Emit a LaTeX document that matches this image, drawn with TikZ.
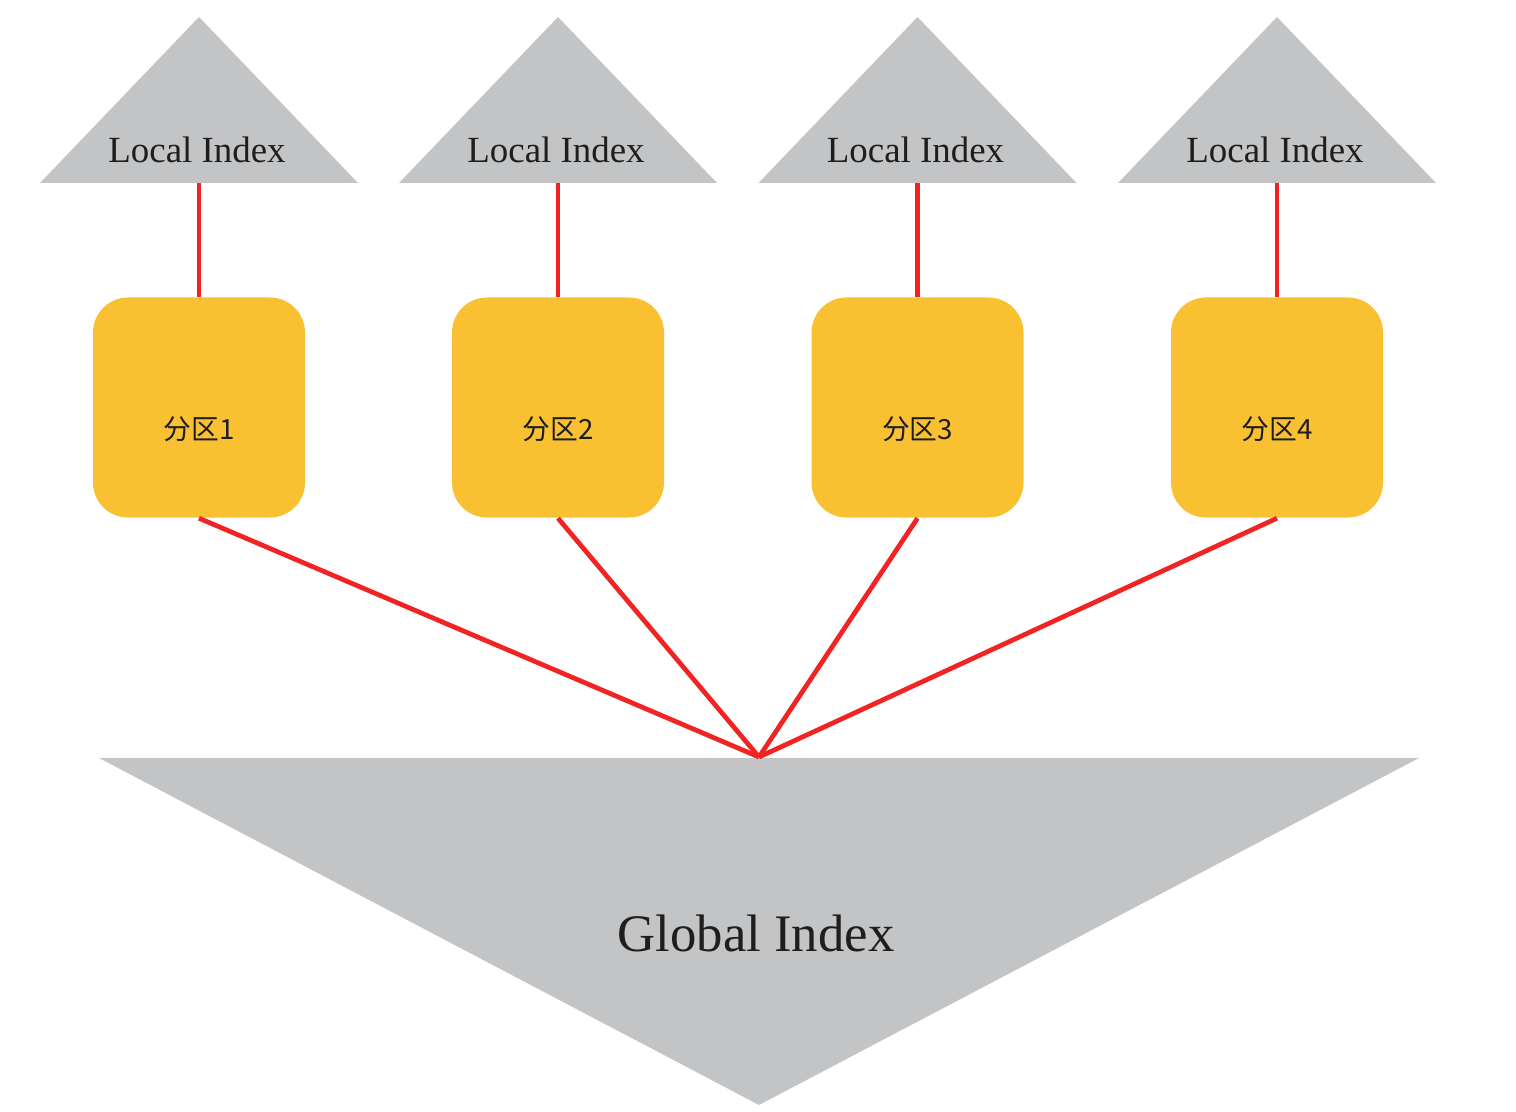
\documentclass[tikz,border=0pt]{standalone}
\usepackage{fontspec}
\setmainfont{Liberation Serif}
\newfontfamily\cjk{Noto Sans CJK SC}
\usepackage{tikz}
\usetikzlibrary{positioning}
\definecolor{idxgray}{HTML}{C3C4C6}
\definecolor{partyellow}{HTML}{F9C032}
\definecolor{linkred}{HTML}{F22323}
\definecolor{txtdark}{HTML}{1E1E1E}
\tikzstyle{line} = [draw=linkred, line width=1.35pt]
\tikzstyle{part} = [rectangle, fill=partyellow, rounded corners=0.35cm, minimum width=2.12cm, minimum height=2.2cm, inner sep=0pt]
\tikzstyle{parttext} = [text=txtdark, font=\cjk\fontsize{7.9}{9}\selectfont]
\tikzstyle{localtext} = [text=txtdark, font=\fontsize{10.5}{12}\selectfont]
\tikzstyle{globaltext} = [text=txtdark, font=\fontsize{15}{18}\selectfont]

\begin{document}
\begin{tikzpicture}
\useasboundingbox (0,0) rectangle (15.16,-11.12);

% local index triangles
\foreach \x/\n in {1.99/1, 5.58/2, 9.175/3, 12.77/4}
{
	\fill [idxgray] (\x-1.59,-1.83) -- (\x,-0.17) -- (\x+1.59,-1.83) -- cycle;
	\node [localtext] (local\n) at (\x-0.02,-1.50) {Local Index};
}

% partitions
\foreach \x/\n in {1.99/1, 5.58/2, 9.175/3, 12.77/4}
{
	\node [part] (p\n) at (\x,-4.075) {};
	\node [parttext] (pt\n) at ([yshift=-0.22cm]p\n.center) {分区\n};
	\coordinate (lb\n) at (\x,-1.83);
}

% global index
\fill [idxgray] (0.99,-7.58) -- (14.19,-7.58) -- (7.59,-11.05) -- cycle;
\coordinate (gtop) at (7.59,-7.57);
\node [globaltext] (global) at (7.56,-9.33) {Global Index};

\foreach \n in {1,...,4}
{
	\path [line] (lb\n) to (p\n.north);
	\path [line] (p\n.south) to (gtop);
}

\end{tikzpicture}
\end{document}
